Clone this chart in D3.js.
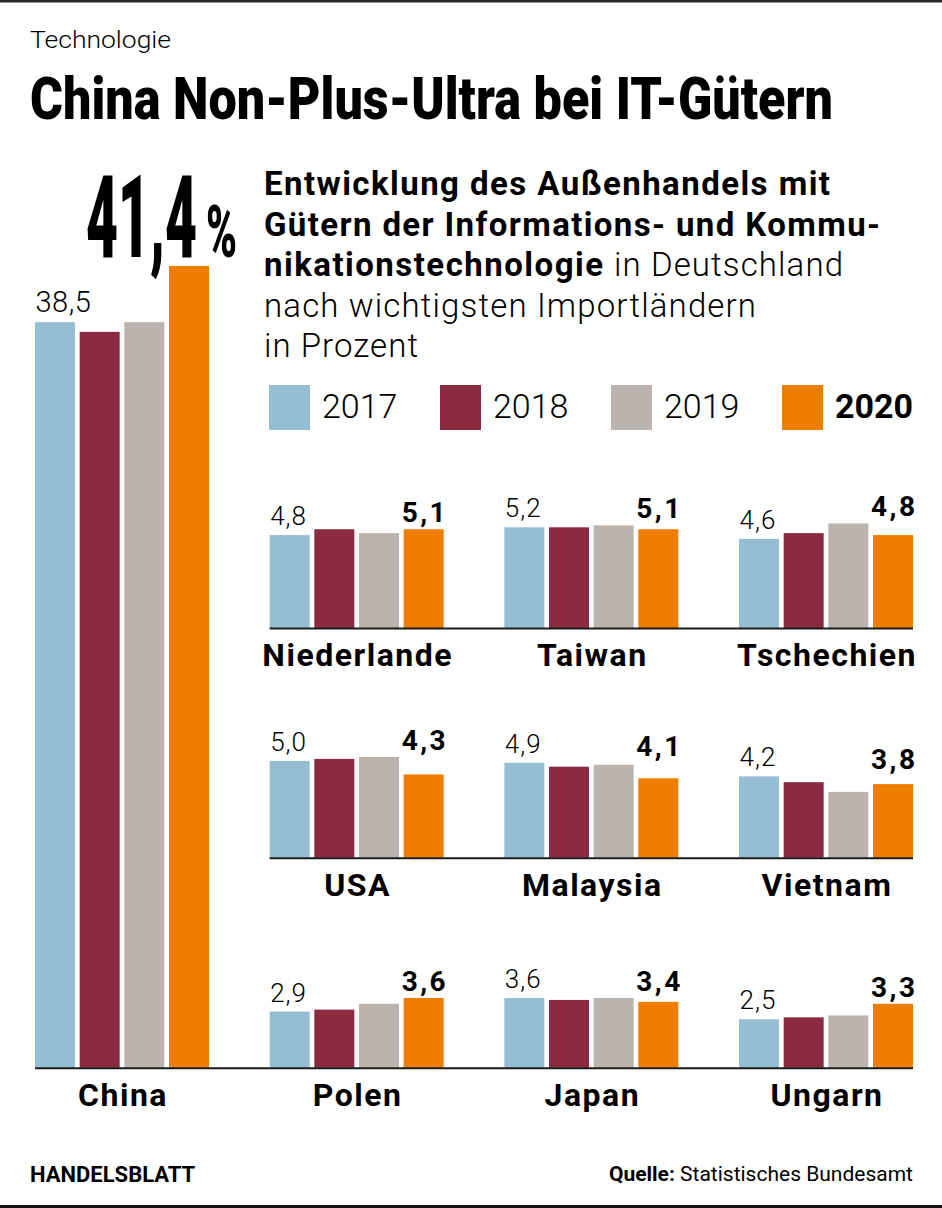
<!DOCTYPE html>
<html><head><meta charset="utf-8">
<script src="https://cdn.jsdelivr.net/npm/d3@7"></script>
<style>
body{margin:0;background:#fff}
svg text{font-family:Roboto,"Open Sans","Liberation Sans",sans-serif;fill:#000}
</style>
</head><body>
<svg id="chart" width="942" height="1208"></svg>
<script>
// ---------- data ----------
const years = ["2017", "2018", "2019", "2020"];
const countries = ["China", "Niederlande", "Taiwan", "Tschechien", "USA", "Malaysia", "Vietnam", "Polen", "Japan", "Ungarn"];
const v2017 = [38.5, 4.8, 5.2, 4.6, 5.0, 4.9, 4.2, 2.9, 3.6, 2.5];
const v2018 = [38.0, 5.1, 5.2, 4.9, 5.1, 4.7, 3.9, 3.0, 3.5, 2.6];
const v2019 = [38.5, 4.9, 5.3, 5.4, 5.2, 4.8, 3.4, 3.3, 3.6, 2.7];
const v2020 = [41.4, 5.1, 5.1, 4.8, 4.3, 4.1, 3.8, 3.6, 3.4, 3.3];
const series = [v2017, v2018, v2019, v2020];
const colors = ["#96bed3", "#8b2a40", "#bbb4ae", "#ef7d00"];
const fmt = v => d3.format(".1f")(v).replace(".", ",");

// ---------- layout ----------
const svg = d3.select("#chart");
const baselines = [628, 857.7, 1067.7];
const colX = d3.scaleBand().domain([0, 1, 2, 3]).range([35, 913]).paddingInner(0.2585).paddingOuter(0);
const barX = d3.scaleBand().domain(years).range([0, colX.bandwidth()]).paddingInner(0.1045).paddingOuter(0);
const h = d3.scaleLinear().domain([0, 41.4]).range([0, 801.7]);

function cell(i) {
  if (i === 0) return {col: 0, row: 2};
  return {col: (i - 1) % 3 + 1, row: Math.floor((i - 1) / 3)};
}

// frame lines
svg.append("rect").attr("x", 0).attr("y", 0).attr("width", 942).attr("height", 2.5).attr("fill", "#2a2a2a");
svg.append("rect").attr("x", 0).attr("y", 1205).attr("width", 942).attr("height", 3).attr("fill", "#111");

// header
svg.append("text").attr("x", 30).attr("y", 48).attr("font-size", 23).attr("font-weight", 300)
  .attr("textLength", 141).attr("lengthAdjust", "spacingAndGlyphs").text("Technologie");
svg.append("text").attr("x", 30).attr("y", 119).attr("font-size", 60).attr("font-weight", 900)
  .attr("textLength", 803).attr("lengthAdjust", "spacingAndGlyphs").text("China Non-Plus-Ultra bei IT-Gütern");

// subtitle
const sx = 264;
const sub = [
  {t: "Entwicklung des Außenhandels mit", y: 195, w: 566, b: true, x: sx},
  {t: "Gütern der Informations- und Kommu-", y: 235.5, w: 616, b: true, x: sx},
  {t: "nikationstechnologie", y: 276, w: 339, b: true, x: sx},
  {t: "in Deutschland", y: 276, w: 229, b: false, x: 614},
  {t: "nach wichtigsten Importländern", y: 316.5, w: 492, b: false, x: sx},
  {t: "in Prozent", y: 357, w: 154, b: false, x: sx}
];
svg.append("g").selectAll("text").data(sub).join("text")
  .attr("x", d => d.x).attr("y", d => d.y)
  .attr("font-size", 33).attr("font-weight", d => d.b ? 700 : 300)
  .attr("textLength", d => d.w).attr("lengthAdjust", "spacing")
  .text(d => d.t);

// legend
const legX = d3.scalePoint().domain(years).range([269, 269 + 3 * 171]);
const leg = svg.append("g").selectAll("g").data(years).join("g")
  .attr("transform", d => `translate(${legX(d)},385)`);
leg.append("rect").attr("width", 41).attr("height", 45).attr("fill", (d, i) => colors[i]);
leg.append("text").attr("x", 53).attr("y", 33).attr("font-size", 34)
  .attr("font-weight", d => d === "2020" ? 700 : 300).text(d => d);

// bars
const cells = svg.append("g").selectAll("g").data(countries).join("g")
  .attr("transform", (d, i) => {
    const c = cell(i);
    return `translate(${colX(c.col)},${baselines[c.row]})`;
  });

cells.each(function(name, i) {
  const g = d3.select(this);
  const vals = series.map(s => s[i]);
  g.selectAll("rect.bar").data(vals).join("rect").attr("class", "bar")
    .attr("x", (v, k) => barX(years[k]))
    .attr("y", v => -h(v))
    .attr("width", barX.bandwidth())
    .attr("height", v => h(v))
    .attr("fill", (v, k) => colors[k]);

  // first-year label
  const isChina = i === 0;
  g.append("text")
    .attr("x", 0.5).attr("y", -h(vals[0]) - 10)
    .attr("font-size", isChina ? 29 : 26).attr("font-weight", 300)
    .attr("letter-spacing", isChina ? 0.5 : 1)
    .text(fmt(vals[0]));

  if (!isChina) {
    const top = d3.max(vals);
    g.append("text")
      .attr("x", colX.bandwidth() + 2 + 2.5).attr("y", -h(top) - 7)
      .attr("text-anchor", "end")
      .attr("font-size", 28).attr("font-weight", 700).attr("letter-spacing", 2.5)
      .text(fmt(vals[3]));
  } else {
    const big = g.append("g").attr("transform", `translate(0,${-h(vals[3]) - 9})`);
    big.append("text").attr("x", 51).attr("y", 0)
      .attr("font-size", 115).attr("font-weight", 900)
      .attr("textLength", 111).attr("lengthAdjust", "spacingAndGlyphs")
      .text(fmt(vals[3]));
    big.append("text").attr("x", 171).attr("y", 0)
      .attr("font-size", 72).attr("font-weight", 900)
      .attr("textLength", 31).attr("lengthAdjust", "spacingAndGlyphs")
      .text("%");
  }

  // category label
  g.append("text")
    .attr("x", colX.bandwidth() / 2 + 1).attr("y", 38)
    .attr("text-anchor", "middle")
    .attr("font-size", 32).attr("font-weight", 700).attr("letter-spacing", 1.5)
    .text(name);
});

// baselines
const baseRows = [
  {y: baselines[0], x0: colX(1), x1: colX(3) + colX.bandwidth()},
  {y: baselines[1], x0: colX(1), x1: colX(3) + colX.bandwidth()},
  {y: baselines[2], x0: colX(0), x1: colX(3) + colX.bandwidth()}
];
svg.append("g").selectAll("line").data(baseRows).join("line")
  .attr("x1", d => d.x0).attr("x2", d => d.x1)
  .attr("y1", d => d.y + 0.5).attr("y2", d => d.y + 0.5)
  .attr("stroke", "#1a1a1a").attr("stroke-width", 2);

// footer
svg.append("text").attr("x", 30).attr("y", 1182).attr("font-size", 22).attr("font-weight", 700)
  .text("HANDELSBLATT");
const src = svg.append("text").attr("x", 913).attr("y", 1181).attr("text-anchor", "end").attr("font-size", 21);
src.append("tspan").attr("font-weight", 700).text("Quelle:");
src.append("tspan").attr("font-weight", 400).text(" Statistisches Bundesamt");
</script>
</body></html>
